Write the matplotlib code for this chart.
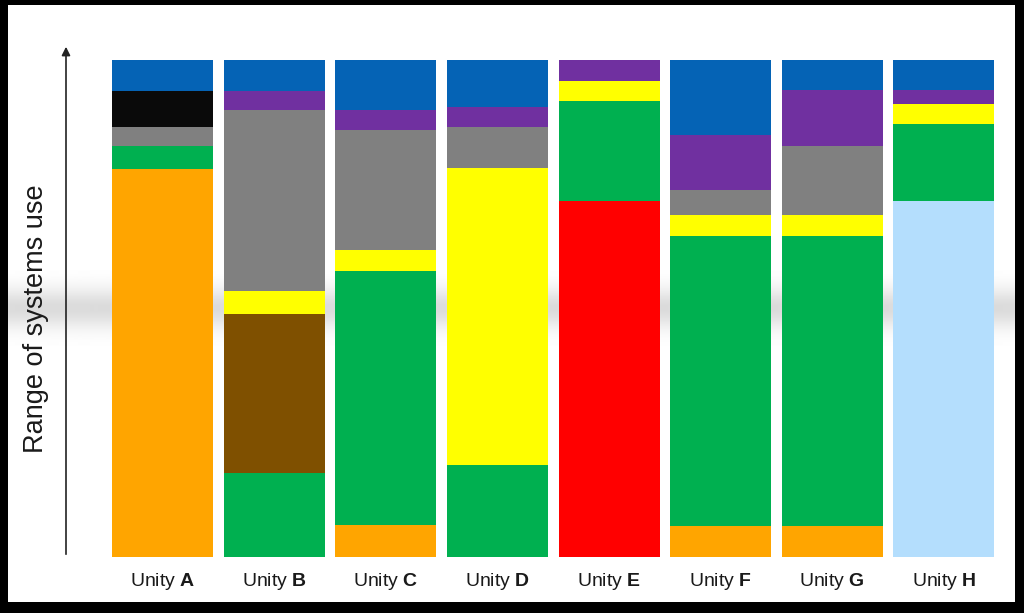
import numpy as np
import matplotlib
matplotlib.use("Agg")
import matplotlib.pyplot as plt

plt.rcParams.update({
    "font.family": ["Liberation Sans", "DejaVu Sans"],
    "mathtext.fontset": "custom",
    "mathtext.rm": "Liberation Sans",
    "mathtext.bf": "Liberation Sans:bold",
})

# units (bars stacked bottom -> top)
units = ["A", "B", "C", "D", "E", "F", "G", "H"]
orange = [388, 0, 32, 0, 0, 31, 31, 0]
red = [0, 0, 0, 0, 356, 0, 0, 0]
light_blue = [0, 0, 0, 0, 0, 0, 0, 356]
green = [23, 84, 254, 92, 100, 290, 290, 77]
brown = [0, 159, 0, 0, 0, 0, 0, 0]
yellow = [0, 23, 21, 297, 20, 21, 21, 20]
gray = [19, 181, 120, 41, 0, 25, 69, 0]
black = [36, 0, 0, 0, 0, 0, 0, 0]
purple = [0, 19, 20, 20, 21, 55, 56, 14]
blue = [31, 31, 50, 47, 0, 75, 30, 30]

series = [
    (orange, "#FFA500"),
    (red, "#FF0000"),
    (light_blue, "#B4DEFD"),
    (green, "#00B050"),
    (brown, "#7F5000"),
    (yellow, "#FFFF00"),
    (gray, "#808080"),
    (black, "#0A0A0A"),
    (purple, "#7030A0"),
    (blue, "#0563B5"),
]

W, H = 1024, 613
fig = plt.figure(figsize=(W / 100, H / 100), dpi=100, facecolor="black")

# white panel with soft grey band across the middle
px0, px1, py_top, py_bot = 8, 1015, 5, 602
bg = fig.add_axes([px0 / W, 1 - py_bot / H, (px1 - px0) / W, (py_bot - py_top) / H])
yy = np.arange(py_top, py_bot)[:, None]
band = 1 - 0.14 * np.exp(-((yy - 308) / 20.0) ** 2)
bg.imshow(band, cmap="gray", vmin=0, vmax=1, aspect="auto",
          extent=(0, 1, 0, 1), interpolation="bilinear")
bg.set_axis_off()

# main axes: bars from y=557 up to y=60 px, pitch ~111.6 px
ax_left, ax_right, ax_bot, ax_top = 106.7, 999.8, 557, 45
ax = fig.add_axes([ax_left / W, 1 - ax_bot / H, (ax_right - ax_left) / W, (ax_bot - ax_top) / H])
ax.patch.set_alpha(0)
x = np.arange(len(units))
bottom = np.zeros(len(units))
for vals, col in series:
    ax.bar(x, vals, width=0.905, bottom=bottom, color=col, linewidth=0)
    bottom += np.array(vals)
ax.set_xlim(-0.5, len(units) - 0.5)
ax.set_ylim(0, 512)
for s in ax.spines.values():
    s.set_visible(False)
ax.set_yticks([])
ax.set_xticks(x)
ax.set_xticklabels([f"Unity $\\mathbf{{{u}}}$" for u in units], fontsize=14, color="#1a1a1a")
ax.tick_params(axis="x", length=0, pad=10)

# vertical arrow as y axis
fig.add_artist(matplotlib.patches.FancyArrowPatch(
    (66 / W, 1 - 557 / H), (66 / W, 1 - 44 / H), transform=fig.transFigure,
    arrowstyle="-|>,head_length=5,head_width=2.5", color="#222222", lw=1.2))
fig.text(36 / W, 1 - 319 / H, "Range of systems use", rotation=90,
         ha="center", va="center", fontsize=19.5, color="#1a1a1a")

fig.savefig("out.png", dpi=100, facecolor="black")
